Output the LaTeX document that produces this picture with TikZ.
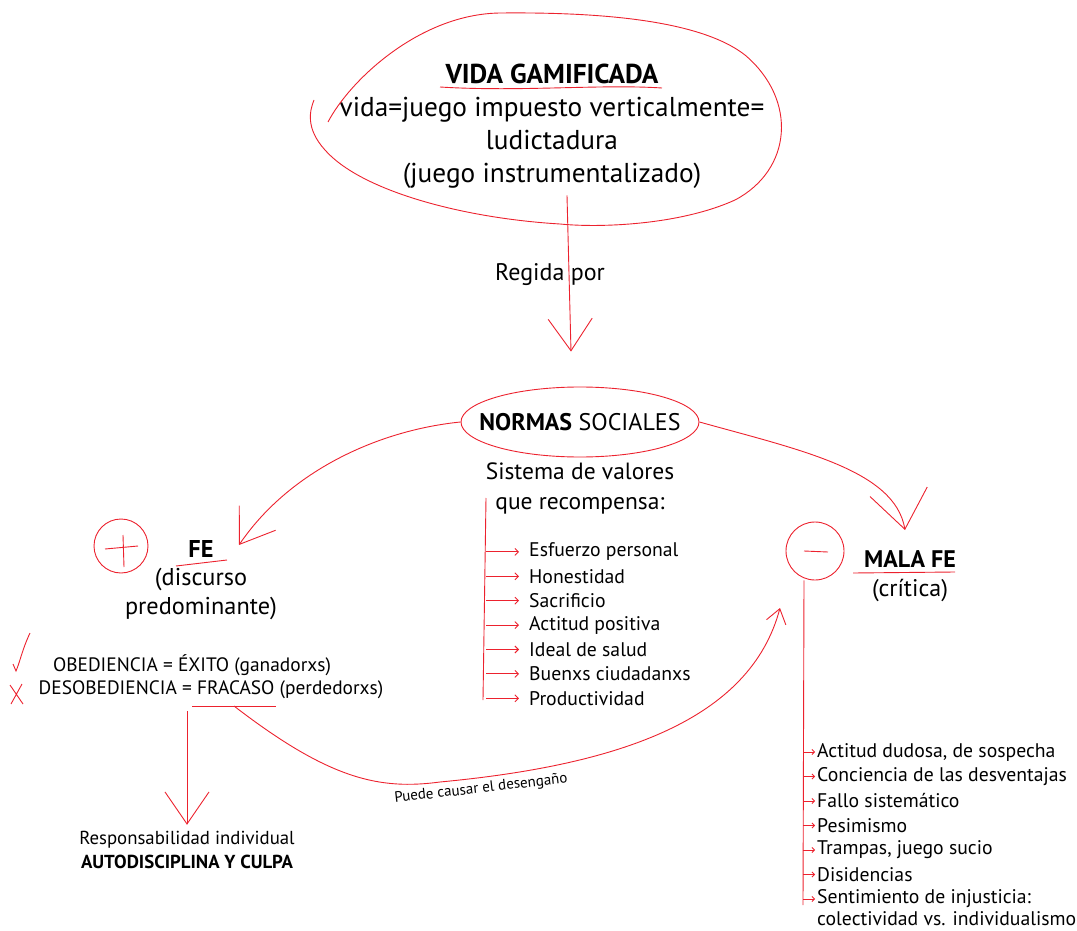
\documentclass[tikz,border=0pt]{standalone}
\usepackage{fontspec}
\setmainfont{PT Sans}
\usetikzlibrary{arrows.meta,positioning,shapes.geometric,calc}
\definecolor{pen}{RGB}{236,34,46}
\begin{document}
\begin{tikzpicture}[x=1pt,y=-1pt,
    ink/.style={draw=pen,line width=0.9pt},
    bigtip/.style={ink,-{Straight Barb[length=32pt,width=44pt,line width=0.9pt]}},
    smalltip/.style={ink,-{Straight Barb[length=3.5pt,width=7pt,line width=0.9pt]}},
    tinytip/.style={ink,-{Straight Barb[length=2.5pt,width=5pt,line width=0.8pt]}},
    txt/.style={inner sep=0pt,align=center},
    item/.style={inner sep=0pt,anchor=west,font=\fontsize{19.7}{21}\selectfont},
  ]
  \useasboundingbox (0,0) rectangle (1077,931);

  \node[txt,font=\fontsize{27.3}{33}\selectfont] (vida) at (552,126)
    {\textbf{VIDA GAMIFICADA}\\vida=juego impuesto verticalmente=\\ludictadura\\(juego instrumentalizado)};
  \draw[ink] (328,122) .. controls (350,80) and (420,14) .. (500,13) .. controls (600,12) and (700,20) .. (745,55)
    .. controls (798,100) and (792,170) .. (735,200) .. controls (680,225) and (600,228) .. (560,224)
    .. controls (460,218) and (360,190) .. (325,150) .. controls (305,128) and (310,110) .. (314,100);
  \draw[ink] (440,87) .. controls (520,92) and (600,84) .. (662,88);

  \node[draw=pen,line width=0.9pt,ellipse,minimum width=238pt,minimum height=70pt,inner xsep=-18pt,inner ysep=0pt,
    font=\fontsize{24}{26}\selectfont] (normas) at (580,422) {\textbf{NORMAS} SOCIALES};
  \node[txt,font=\fontsize{24}{26}\selectfont] (regida) at (550,275) {Regida por};
  \draw[bigtip] ([xshift=15pt,yshift=-7pt]vida.south) -- ([xshift=-9pt,yshift=35pt]normas.north);

  \node[txt,font=\fontsize{23.5}{30}\selectfont] (valores) at (580,488) {Sistema de valores\\que recompensa:};
  \coordinate (vtop) at (486,498);
  \coordinate (vbot) at (483,700);
  \draw[ink] (vtop) -- (vbot);
  \foreach \t [count=\i] in {Esfuerzo personal,Honestidad,Sacrificio,Actitud positiva,Ideal de salud,Buenxs ciudadanxs,Productividad}{
    \node[item] (v\i) at (529,{527.5+24.4*\i}) {\t};
    \draw[smalltip,shorten >=10pt] (vtop |- v\i.west) -- (v\i.west);
  }

  \node[draw=pen,line width=0.9pt,circle,minimum size=54pt] (plus) at (121,546) {};
  \draw[ink] (105,549) -- (138,546) (123,535) -- (124,567);
  \node[txt,font=\fontsize{24.3}{28.5}\selectfont] (fe) at (201,580) {\textbf{FE}\\(discurso\\predominante)};
  \draw[ink] (176,566) -- (227,560);
  \coordinate (fetip) at (239,545);
  \draw[bigtip] (normas.west) .. controls (380,430) and (290,470) .. (fetip);

  \node[draw=pen,line width=0.9pt,circle,minimum size=58pt] (minus) at (815,551) {};
  \draw[ink] (804,551) -- (828,552);
  \node[txt,font=\fontsize{24}{29}\selectfont] (malafe) at (910,576) {\textbf{MALA FE}\\(crítica)};
  \draw[ink] (853,573) -- (955,572);
  \coordinate (mftip) at (905,530);
  \draw[bigtip,-{Straight Barb[length=38pt,width=58pt,line width=0.9pt]}] (normas.east) .. controls (800,450) and (895,470) .. (mftip);

  \draw[ink] (30,633) .. controls (22,650) and (20,662) .. (16,671) -- (13,664);
  \draw[ink] (10,685) -- (23,704) (22,684) -- (11,704);
  \node[txt,font=\fontsize{19.4}{21}\selectfont] (obed) at (192,665) {OBEDIENCIA = ÉXITO (ganadorxs)};
  \node[txt,font=\fontsize{19.4}{21}\selectfont] (desob) at (211,690) {DESOBEDIENCIA = FRACASO (perdedorxs)};
  \draw[ink] (192,706) -- (276,706);
  \coordinate (fracaso) at (234,706);

  \node[txt,font=\fontsize{18.8}{24.5}\selectfont] (resp) at (187,850) {Responsabilidad individual\\\textbf{AUTODISCIPLINA Y CULPA}};
  \draw[bigtip,shorten <=12pt,shorten >=6pt] (resp.north |- desob.south) -- (resp.north);

  \coordinate (desengtip) at (780,608);
  \draw[ink,-{Straight Barb[length=14pt,width=20pt,line width=0.9pt]}] (fracaso) .. controls (330,780) and (380,790) .. (440,782)
    .. controls (620,765) and (750,720) .. (desengtip);
  \node[txt,font=\fontsize{15}{16}\selectfont,rotate=6.5] (deseng) at (481,789) {Puede causar el desengaño};

  \coordinate (mbot) at (803,905);
  \draw[ink] ([xshift=-11pt]minus.south) -- (mbot);
  \foreach \t [count=\i] in {Actitud dudosa\/{,} de sospecha,Conciencia de las desventajas,Fallo sistemático,Pesimismo,Trampas\/{,} juego sucio,Disidencias,Sentimiento de injusticia:}{
    \node[item] (m\i) at (817,{727.5+24.5*\i}) {\t};
    \draw[tinytip,shorten >=2pt] (mbot |- m\i.west) -- (m\i.west);
  }
  \node[item] (m8) at (817,919) {colectividad vs. individualismo};
\end{tikzpicture}
\end{document}
